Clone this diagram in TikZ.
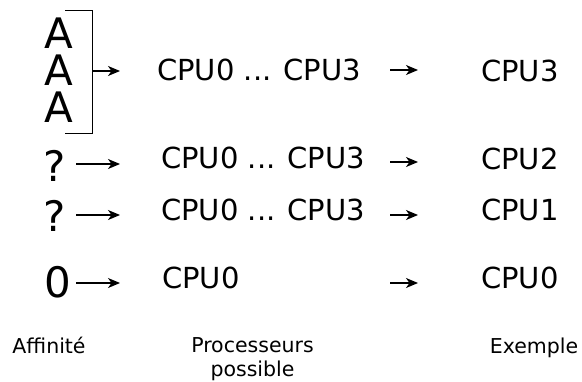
\documentclass[tikz,border=0pt]{standalone}
\usepackage{fontspec}
\setmainfont{DejaVu Sans}
\usetikzlibrary{arrows.meta}
\tikzset{
  grand/.style={font=\fontsize{42}{42}\selectfont, inner sep=0pt, text height=30pt, text depth=0pt},
  cpu/.style={font=\fontsize{29}{30}\selectfont, inner sep=0pt, anchor=west},
  legende/.style={font=\fontsize{20.5}{24}\selectfont, inner sep=0pt, align=center, anchor=base},
  fleche/.style={-{Stealth[length=12pt,width=10pt,inset=3.5pt]}, line width=1.1pt}
}
\begin{document}
\begin{tikzpicture}[x=1pt,y=-1pt]
  \useasboundingbox (0,0) rectangle (582,381);
  %% Affinite
  \node[grand] (a1) at (58.5,33) {A};
  \node[grand] (a2) at (58.5,70) {A};
  \node[grand] (a3) at (58.5,107) {A};
  \node[grand] (q1) at (54.5,166) {?};
  \node[grand] (q2) at (54.5,216) {?};
  \node[grand] (zero) at (57.5,282.5) {0};
  \draw[line width=1pt] (65,10) -- (92,10) coordinate (crochet) -- (92,133) -- (65,133);
  %% Processeurs possibles
  \node[cpu] (p1) at (157,70) {CPU0 ... CPU3};
  \node[cpu] (p2) at (161,158) {CPU0 ... CPU3};
  \node[cpu] (p3) at (161,210) {CPU0 ... CPU3};
  \node[cpu] (p4) at (162,278) {CPU0};
  %% Exemple
  \node[cpu] (e1) at (481,71) {CPU3};
  \node[cpu] (e2) at (481,159) {CPU2};
  \node[cpu] (e3) at (481,210) {CPU1};
  \node[cpu] (e4) at (481,278) {CPU0};
  %% Fleches
  \coordinate (g1) at (92,71);   \coordinate (h1) at (120,71);
  \coordinate (g2) at (76,164);  \coordinate (h2) at (120,164);
  \coordinate (g3) at (76,215);  \coordinate (h3) at (120,215);
  \coordinate (g4) at (76,283);  \coordinate (h4) at (120,283);
  \coordinate (d1) at (390,70);  \coordinate (f1) at (418,70);
  \coordinate (d2) at (390,162); \coordinate (f2) at (418,162);
  \coordinate (d3) at (390,215); \coordinate (f3) at (418,215);
  \coordinate (d4) at (390,283); \coordinate (f4) at (418,283);
  \foreach \i in {1,...,4} {
    \draw[fleche] (g\i) -- (h\i);
    \draw[fleche] (d\i) -- (f\i);
  }
  %% Legendes
  \node[legende] (laff) at (49,353) {Affinité};
  \node[legende] (lproc) at (252.5,376) {Processeurs\\possible};
  \node[legende] (lex) at (534,353) {Exemple};
\end{tikzpicture}
\end{document}
